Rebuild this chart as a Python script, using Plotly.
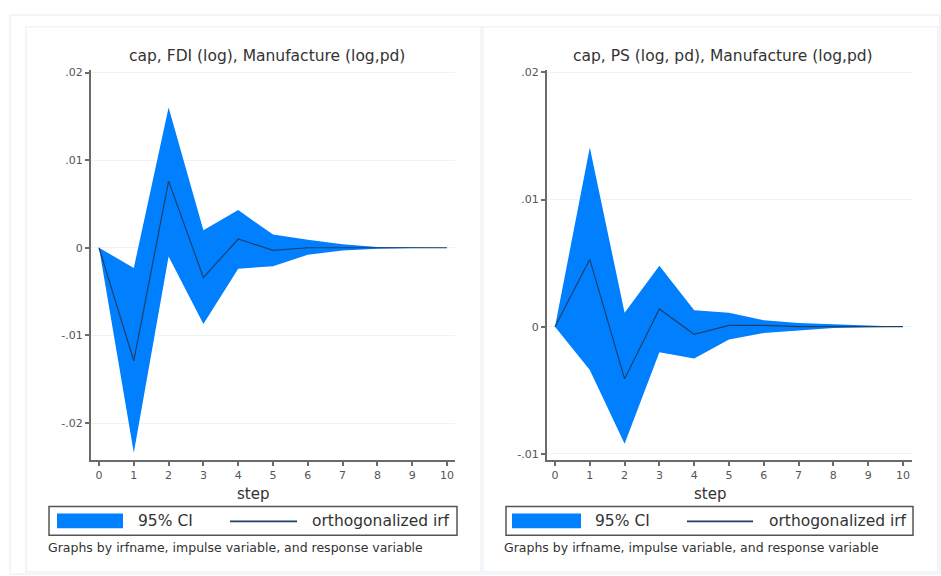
import plotly.graph_objects as go

steps = [0, 1, 2, 3, 4, 5, 6, 7, 8, 9, 10]

# Left panel: impulse FDI (log) -> response Manufacture (log,pd)
fdi_irf = [0, -0.0129, 0.0076, -0.0034, 0.0010, -0.0003, 0.0000, 0.0000, 0.0000, 0.0000, 0.0000]
fdi_lo = [0, -0.0234, -0.0010, -0.0087, -0.0024, -0.0021, -0.0008, -0.0003, -0.0001, -0.00003, 0.0000]
fdi_hi = [0, -0.0023, 0.0160, 0.0020, 0.0043, 0.0015, 0.0009, 0.0004, 0.0001, 0.00005, 0.0000]

# Right panel: impulse PS (log, pd) -> response Manufacture (log,pd)
ps_irf = [0, 0.0053, -0.0041, 0.0014, -0.0006, 0.0001, 0.0001, 0.0000, 0.0000, 0.0000, 0.0000]
ps_lo = [0, -0.0034, -0.0092, -0.0020, -0.0025, -0.0010, -0.0005, -0.0003, -0.0001, -0.00005, 0.0000]
ps_hi = [0, 0.0141, 0.0011, 0.0048, 0.0013, 0.0011, 0.0005, 0.0003, 0.0002, 0.0001, 0.0000]

titles = ["cap, FDI (log), Manufacture (log,pd)", "cap, PS (log, pd), Manufacture (log,pd)"]
left_ticks = [-0.02, -0.01, 0, 0.01, 0.02]
left_ticktext = ["-.02", "-.01", "0", ".01", ".02"]
right_ticks = [-0.01, 0, 0.01, 0.02]
right_ticktext = ["-.01", "0", ".01", ".02"]
legend_labels = ["95% CI", "orthogonalized irf"]
note = "Graphs by irfname, impulse variable, and response variable"

W, H = 941, 576
FILL = "#0080ff"
LINE = "#1f3f66"
FONT = "DejaVu Sans, Liberation Sans, Arial, sans-serif"
TXT = "#333333"

fig = go.Figure()

panels = [
    dict(lo=fdi_lo, hi=fdi_hi, irf=fdi_irf, xa="x", ya="y"),
    dict(lo=ps_lo, hi=ps_hi, irf=ps_irf, xa="x2", ya="y2"),
]
for p in panels:
    fig.add_trace(go.Scatter(
        x=steps + steps[::-1], y=p["hi"] + p["lo"][::-1],
        fill="toself", fillcolor=FILL, line=dict(width=0, color=FILL),
        mode="lines", hoverinfo="skip", showlegend=False,
        xaxis=p["xa"], yaxis=p["ya"]))
    fig.add_trace(go.Scatter(
        x=steps, y=p["irf"], mode="lines",
        line=dict(color=LINE, width=1.2), showlegend=False,
        xaxis=p["xa"], yaxis=p["ya"]))

def px_x(v):
    return v / W

def px_y(v):
    return 1 - v / H

axis_common = dict(
    showline=True, linecolor="#6b6b6b", linewidth=2,
    ticks="outside", ticklen=4, tickcolor="#6b6b6b", tickwidth=1.5,
    tickfont=dict(family=FONT, size=11, color="#555555"),
    zeroline=False, fixedrange=True,
)

fig.update_layout(
    width=W, height=H,
    margin=dict(l=0, r=0, t=0, b=0),
    paper_bgcolor="white", plot_bgcolor="white",
    showlegend=False,
    xaxis=dict(domain=[px_x(91), px_x(455)], range=[-0.23, 10.23], anchor="y",
               tickvals=steps, showgrid=False, **axis_common),
    yaxis=dict(domain=[px_y(460), px_y(67)], range=[-0.0242, 0.02034], anchor="x",
               tickvals=left_ticks, ticktext=left_ticktext,
               showgrid=True, gridcolor="#eef3f4", gridwidth=1, **axis_common),
    xaxis2=dict(domain=[px_x(547), px_x(912)], range=[-0.23, 10.26], anchor="y2",
                tickvals=steps, showgrid=False, **axis_common),
    yaxis2=dict(domain=[px_y(460), px_y(67)], range=[-0.01047, 0.02023], anchor="x2",
                tickvals=right_ticks, ticktext=right_ticktext,
                showgrid=True, gridcolor="#eef3f4", gridwidth=1, **axis_common),
)

shapes = []
annotations = []

# outer and panel frames
shapes.append(dict(type="rect", xref="paper", yref="paper",
                   x0=px_x(10), x1=px_x(940), y0=px_y(575), y1=px_y(12),
                   line=dict(color="#f0f4f6", width=1.5), layer="below"))
shapes.append(dict(type="rect", xref="paper", yref="paper",
                   x0=px_x(26), x1=px_x(481), y0=px_y(573), y1=px_y(24),
                   line=dict(color="#f0f4f6", width=1.5), layer="below"))
shapes.append(dict(type="rect", xref="paper", yref="paper",
                   x0=px_x(483), x1=px_x(938), y0=px_y(573), y1=px_y(24),
                   line=dict(color="#f0f4f6", width=1.5), layer="below"))

panel_geo = [
    dict(title_x=267, step_x=253, box=(49, 457), sw=(57, 123), ci_x=136, ln=(230, 297), irf_x=310, note_x=46),
    dict(title_x=723, step_x=710, box=(506, 913), sw=(512, 581), ci_x=593, ln=(687, 753), irf_x=767, note_x=502),
]
for i, g in enumerate(panel_geo):
    annotations.append(dict(text=titles[i], xref="paper", yref="paper",
                            x=px_x(g["title_x"]), y=px_y(53), xanchor="center", yanchor="middle",
                            showarrow=False, font=dict(family=FONT, size=15.5, color=TXT)))
    annotations.append(dict(text="step", xref="paper", yref="paper",
                            x=px_x(g["step_x"]), y=px_y(494), xanchor="center", yanchor="middle",
                            showarrow=False, font=dict(family=FONT, size=15, color=TXT)))
    # legend box
    shapes.append(dict(type="rect", xref="paper", yref="paper",
                       x0=px_x(g["box"][0]), x1=px_x(g["box"][1]), y0=px_y(536), y1=px_y(507),
                       line=dict(color="#555555", width=1.5), fillcolor="white"))
    shapes.append(dict(type="rect", xref="paper", yref="paper",
                       x0=px_x(g["sw"][0]), x1=px_x(g["sw"][1]), y0=px_y(529), y1=px_y(514),
                       line=dict(width=0), fillcolor=FILL))
    shapes.append(dict(type="line", xref="paper", yref="paper",
                       x0=px_x(g["ln"][0]), x1=px_x(g["ln"][1]), y0=px_y(522), y1=px_y(522),
                       line=dict(color=LINE, width=1.8)))
    annotations.append(dict(text=legend_labels[0], xref="paper", yref="paper",
                            x=px_x(g["ci_x"]), y=px_y(522), xanchor="left", yanchor="middle",
                            showarrow=False, font=dict(family=FONT, size=15.5, color=TXT)))
    annotations.append(dict(text=legend_labels[1], xref="paper", yref="paper",
                            x=px_x(g["irf_x"]), y=px_y(522), xanchor="left", yanchor="middle",
                            showarrow=False, font=dict(family=FONT, size=15.5, color=TXT)))
    annotations.append(dict(text=note, xref="paper", yref="paper",
                            x=px_x(g["note_x"]), y=px_y(548), xanchor="left", yanchor="middle",
                            showarrow=False, font=dict(family=FONT, size=12.5, color=TXT)))

fig.update_layout(shapes=shapes, annotations=annotations)
fig.write_html("out.html", config={"displayModeBar": False},
               post_script="document.body.style.margin='0';document.body.style.overflow='hidden';")
